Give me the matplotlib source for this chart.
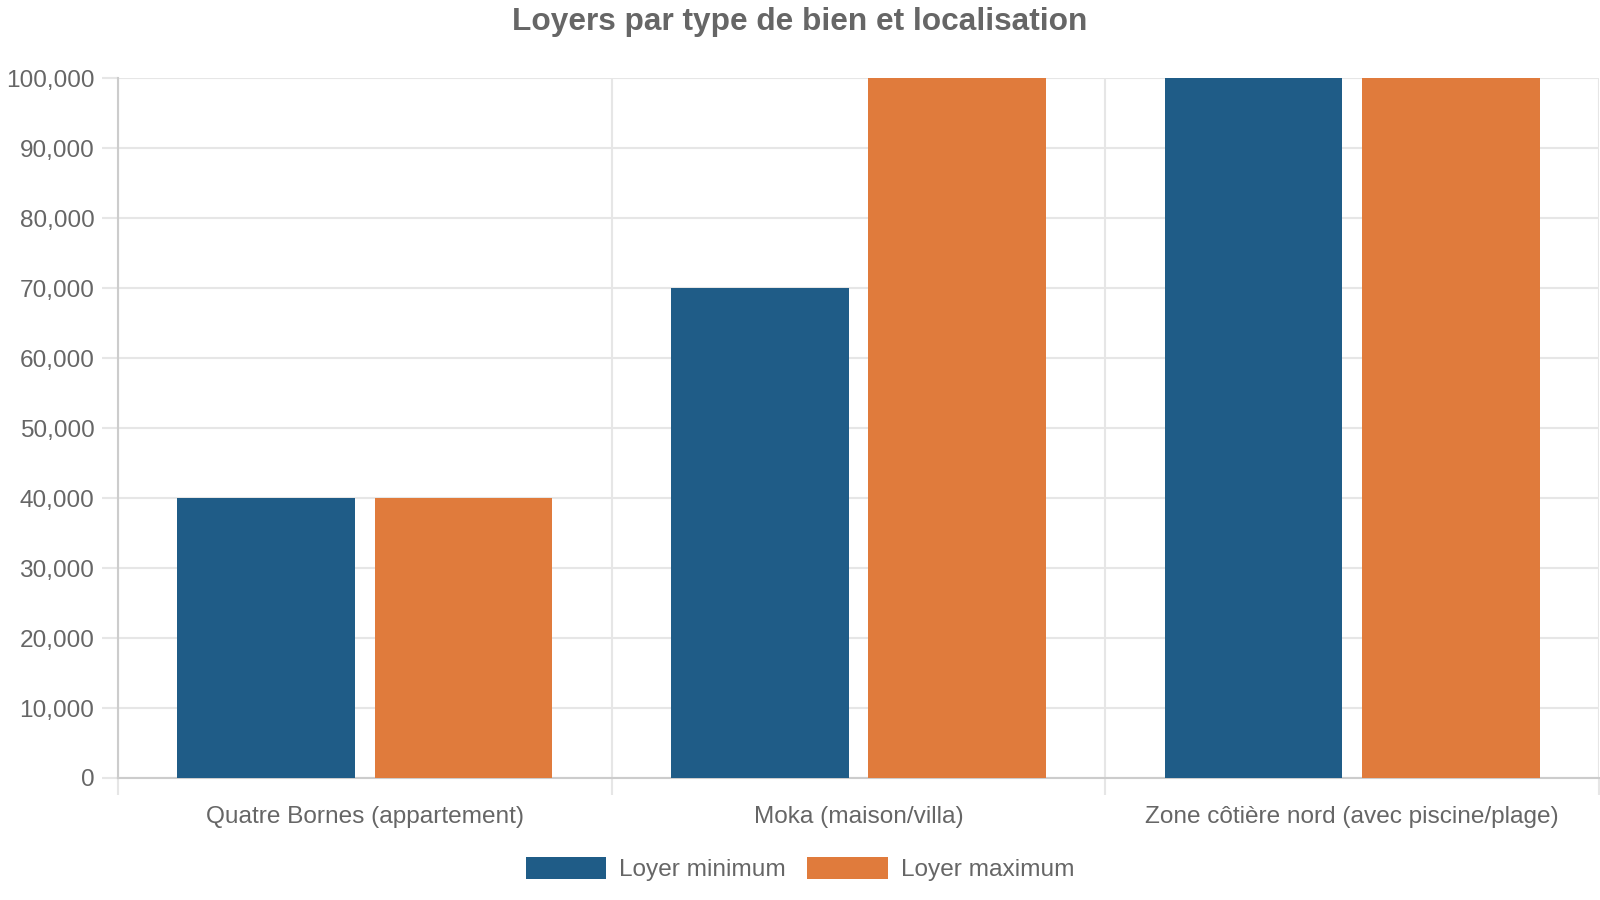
import matplotlib
matplotlib.use("Agg")
import matplotlib.pyplot as plt
import numpy as np
from matplotlib.ticker import FuncFormatter, MultipleLocator, FixedLocator

categories = ["Quatre Bornes (appartement)", "Moka (maison/villa)", "Zone côtière nord (avec piscine/plage)"]
loyer_min = [40000, 70000, 100000]
loyer_max = [40000, 100000, 100000]
series_names = ["Loyer minimum", "Loyer maximum"]
colors = ["#1f5c87", "#e07b3c"]

plt.rcParams['font.family'] = ['Liberation Sans', 'DejaVu Sans']

W, H = 1600, 900
fig = plt.figure(figsize=(W / 100, H / 100), dpi=100)
left, right, top, bottom = 118, 1599, 78, 778
ax = fig.add_axes([left / W, (H - bottom) / H, (right - left) / W, (bottom - top) / H])

x = np.arange(len(categories))
bw = 0.36
off = 0.2
ax.bar(x - off, loyer_min, bw, color=colors[0], label=series_names[0], zorder=3)
ax.bar(x + off, loyer_max, bw, color=colors[1], label=series_names[1], zorder=3)

ax.set_xlim(-0.5, len(categories) - 0.5)
ax.set_ylim(0, 100000)
ax.yaxis.set_major_locator(MultipleLocator(10000))
ax.yaxis.set_major_formatter(FuncFormatter(lambda v, p: f"{int(v):,}"))

ax.set_xticks(x)
ax.set_xticklabels(categories)
ax.xaxis.set_minor_locator(FixedLocator(np.arange(-0.5, len(categories), 1.0)))

grid_c = "#e6e6e6"
axis_c = "#cccccc"
txt_c = "#666666"
fs = 17.6

ax.grid(axis='y', which='major', color=grid_c, linewidth=1.5, zorder=0)
ax.grid(axis='x', which='minor', color=grid_c, linewidth=1.5, zorder=0)
ax.grid(axis='x', which='major', visible=False)

ax.tick_params(axis='y', which='major', length=11.5, width=1.5, color=grid_c, pad=5.5,
               labelsize=fs, labelcolor=txt_c)
ax.tick_params(axis='x', which='major', length=0, pad=20, labelsize=fs, labelcolor=txt_c)
ax.tick_params(axis='x', which='minor', length=12, width=1.5, color=grid_c)

for s in ['top', 'right']:
    ax.spines[s].set_visible(False)
for s in ['left', 'bottom']:
    ax.spines[s].set_color(axis_c)
    ax.spines[s].set_linewidth(1.5)

fig.text(0.5, 1 - 22 / H, "Loyers par type de bien et localisation", ha='center', va='center',
         fontsize=22.8, fontweight='bold', color=txt_c)

fig.legend(loc='center', bbox_to_anchor=(0.5, 1 - 869 / H), ncol=2, frameon=False,
           fontsize=fs, labelcolor=txt_c, handlelength=3.28, handleheight=1.0,
           handletextpad=0.54, columnspacing=0.88, borderaxespad=0, borderpad=0)

fig.savefig("out.png", dpi=100, facecolor="white")
